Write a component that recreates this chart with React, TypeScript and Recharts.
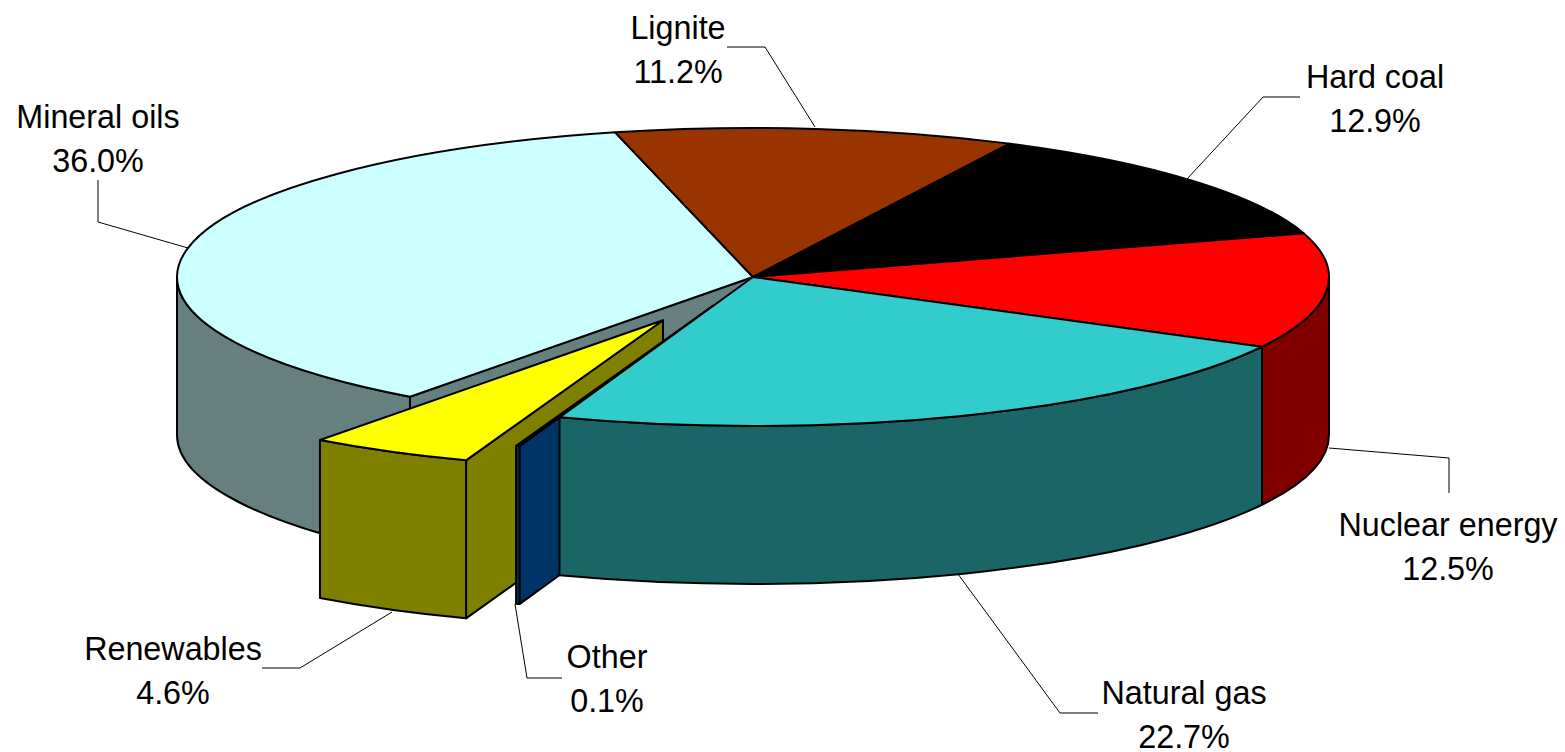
import React from "react";
import { PieChart, Pie } from "recharts";

const names = ["Mineral oils", "Lignite", "Hard coal", "Nuclear energy", "Natural gas", "Other", "Renewables"];
const shares = [36.0, 11.2, 12.9, 12.5, 22.7, 0.1, 4.6];
const tops = ["#CCFFFF", "#993300", "#000000", "#FF0000", "#33CCCC", "#003366", "#FFFF00"];
const walls = ["#668080", "#4D1A00", "#000000", "#800000", "#1A6666", "#003366", "#808000"];
const explodes = [0, 0, 0, 0, 0, 0.205, 0.33];
const hasRadialWall = ["Mineral oils", "Other", "Renewables"];
const drawLayers = [
  ["Mineral oils", "Lignite", "Hard coal", "Nuclear energy", "Renewables"],
  ["Other"],
  ["Natural gas"],
];

const labelSpots: Record<string, { x: number; y: number; line: number[][] }> = {
  "Mineral oils": { x: 98, y: 128, line: [[98, 180], [98, 222], [188, 248]] },
  Lignite: { x: 678, y: 39, line: [[727, 47], [765, 47], [815, 127]] },
  "Hard coal": { x: 1375, y: 88, line: [[1300, 97], [1263, 97], [1187, 179]] },
  "Nuclear energy": { x: 1448, y: 536, line: [[1449, 493], [1449, 458], [1329, 448]] },
  "Natural gas": { x: 1184, y: 704, line: [[1098, 713], [1060, 713], [958, 574]] },
  Other: { x: 607, y: 668, line: [[562, 678], [527, 678], [515, 604]] },
  Renewables: { x: 173, y: 660, line: [[262, 668], [300, 668], [392, 612]] },
};

const tableData = names.map((name, i) => ({ name, value: shares[i] }));

const CX = 753;
const CY = 277;
const RX = 576;
const SQUASH = 149 / 576;
const DEPTH = 158;
const START = 233.45;
const rad = (d: number) => (d * Math.PI) / 180;

function visibleRim(hi: number, lo: number): [number, number] | null {
  for (const k of [-360, 0, 360]) {
    const a = Math.min(hi, k);
    const b = Math.max(lo, k - 180);
    if (a > b) return [a, b];
  }
  return null;
}

function makeShape(layer: string[]) {
  return function SliceShape(props: any) {
    const { name, cx, cy, outerRadius, startAngle, endAngle } = props;
    if (!layer.includes(name)) return <g />;
    const i = names.indexOf(name);
    const e = explodes[i];
    const mid = rad((startAngle + endAngle) / 2);
    const ry = outerRadius * SQUASH;
    const ox = cx + e * outerRadius * Math.cos(mid);
    const oy = cy - e * ry * Math.sin(mid);
    const pt = (a: number, dz = 0) => [ox + outerRadius * Math.cos(rad(a)), oy - ry * Math.sin(rad(a)) + dz];
    const stroke = { stroke: "#000", strokeWidth: 2, strokeLinejoin: "round" as const };
    const [sx, sy] = pt(startAngle);
    const [ex, ey] = pt(endAngle);
    const large = startAngle - endAngle > 180 ? 1 : 0;
    const topPath = `M${ox},${oy}L${sx},${sy}A${outerRadius},${ry} 0 ${large} 1 ${ex},${ey}Z`;
    const rim = visibleRim(startAngle, endAngle);
    let rimPath = "";
    if (rim) {
      const [a0, a1] = pt(rim[0]);
      const [b0, b1] = pt(rim[1]);
      rimPath =
        `M${a0},${a1}A${outerRadius},${ry} 0 0 1 ${b0},${b1}` +
        `L${b0},${b1 + DEPTH}A${outerRadius},${ry} 0 0 0 ${a0},${a1 + DEPTH}Z`;
    }
    const radial = hasRadialWall.includes(name)
      ? `M${ox},${oy}L${sx},${sy}L${sx},${sy + DEPTH}L${ox},${oy + DEPTH}Z`
      : "";
    return (
      <g>
        {radial && <path d={radial} fill={walls[i]} {...stroke} />}
        {rimPath && <path d={rimPath} fill={walls[i]} {...stroke} />}
        <path d={topPath} fill={tops[i]} {...stroke} />
      </g>
    );
  };
}

function renderLabel(props: any) {
  const { name, value } = props;
  const spot = labelSpots[name];
  return (
    <g key={name}>
      <polyline points={spot.line.map((p) => p.join(",")).join(" ")} fill="none" stroke="#000" strokeWidth={1} />
      <text x={spot.x} y={spot.y} textAnchor="middle" fontFamily="'Liberation Sans', Arial, sans-serif" fontSize={32.3} fill="#000">
        {name}
      </text>
      <text x={spot.x} y={spot.y + 44} textAnchor="middle" fontFamily="'Liberation Sans', Arial, sans-serif" fontSize={32.3} fill="#000">
        {Number(value).toFixed(1)}%
      </text>
    </g>
  );
}

export default function App() {
  return (
    <div style={{ position: "absolute", left: 0, top: 0, width: 1565, height: 752, background: "#fff", overflow: "hidden" }}>
      <PieChart width={1565} height={752} margin={{ top: 0, right: 0, bottom: 0, left: 0 }}>
        {drawLayers.map((layer, idx) => (
          <Pie
            key={idx}
            data={tableData}
            dataKey="value"
            nameKey="name"
            cx={CX}
            cy={CY}
            innerRadius={0}
            outerRadius={RX}
            startAngle={START}
            endAngle={START - 360}
            paddingAngle={0}
            isAnimationActive={false}
            shape={makeShape(layer)}
            label={idx === drawLayers.length - 1 ? renderLabel : false}
            labelLine={false}
          />
        ))}
      </PieChart>
    </div>
  );
}
